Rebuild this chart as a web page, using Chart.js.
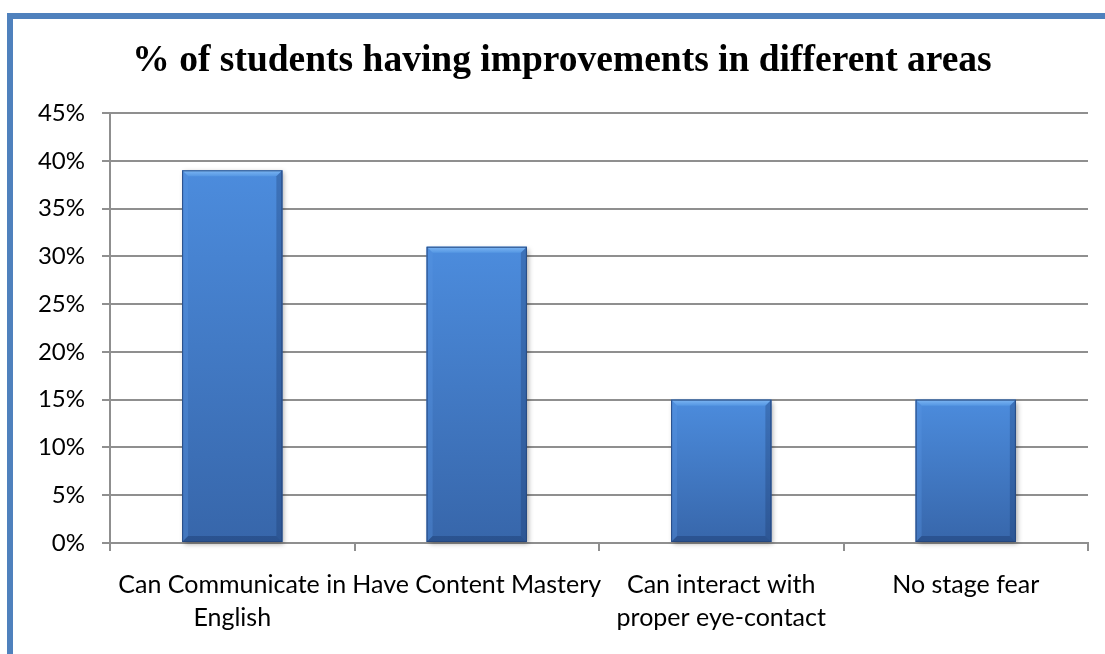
<!DOCTYPE html>
<html>
<head>
<meta charset="utf-8">
<script src="https://cdn.jsdelivr.net/npm/chart.js@4"></script>
<style>
  html, body { margin: 0; padding: 0; background: #ffffff; overflow: hidden; }
  #wrap { position: relative; width: 1105px; height: 654px; }
  #frame {
    position: absolute; left: 7px; top: 13px; width: 1200px; height: 800px;
    border-left: 6px solid #4F81BD; border-top: 6px solid #4F81BD;
    pointer-events: none;
  }
</style>
</head>
<body>
<div id="wrap">
  <canvas id="chart" width="1105" height="654"></canvas>
  <div id="frame"></div>
</div>
<script>
// Survey results: share of students improving in each area
const chartTitle = '% of students having improvements in different areas';
const categories = [
  ['Can Communicate in', 'English'],
  ['Have Content Mastery'],
  ['Can interact with', 'proper eye-contact'],
  ['No stage fear']
];
const percentImproved = [39, 31, 15, 15];
const yTickStep = 5;
const yMax = 45;

const gridColor = '#8f8f8f';

// Per-bar vertical gradient, lighter at the top
function barFill(ctx) {
  const chart = ctx.chart;
  const y = chart.scales.y;
  if (!chart.chartArea || !y) return '#4677C0';
  const top = y.getPixelForValue(ctx.raw);
  const bottom = y.getPixelForValue(0);
  const g = chart.ctx.createLinearGradient(0, top, 0, bottom);
  g.addColorStop(0, '#4C8CDD');
  g.addColorStop(1, '#3766AA');
  return g;
}

// Bevelled edges and a soft shadow around each bar
const bevelPlugin = {
  id: 'bevel',
  beforeDatasetsDraw(chart) {
    const c = chart.ctx;
    chart.getDatasetMeta(0).data.forEach(bar => {
      const l = bar.x - bar.width / 2, r = bar.x + bar.width / 2;
      c.save();
      c.shadowColor = 'rgba(0,0,0,0.35)';
      c.shadowBlur = 5;
      c.shadowOffsetX = 2;
      c.shadowOffsetY = 2;
      c.fillStyle = '#3766AA';
      c.fillRect(l, bar.y, r - l, bar.base - bar.y);
      c.restore();
    });
  },
  afterDatasetsDraw(chart) {
    const c = chart.ctx;
    const b = 6;
    chart.getDatasetMeta(0).data.forEach(bar => {
      const l = bar.x - bar.width / 2, r = bar.x + bar.width / 2;
      const t = bar.y, btm = bar.base;
      c.save();
      // top face
      const gt = c.createLinearGradient(0, t, 0, t + b);
      gt.addColorStop(0, '#7DB6F3');
      gt.addColorStop(1, '#5597E3');
      c.fillStyle = gt;
      c.beginPath();
      c.moveTo(l, t); c.lineTo(r, t); c.lineTo(r - b, t + b); c.lineTo(l + b, t + b);
      c.closePath(); c.fill();
      // left face
      c.fillStyle = 'rgba(90,150,225,0.35)';
      c.beginPath();
      c.moveTo(l, t); c.lineTo(l + b, t + b); c.lineTo(l + b, btm - b); c.lineTo(l, btm);
      c.closePath(); c.fill();
      // right face
      c.fillStyle = 'rgba(20,45,95,0.28)';
      c.beginPath();
      c.moveTo(r, t); c.lineTo(r - b, t + b); c.lineTo(r - b, btm - b); c.lineTo(r, btm);
      c.closePath(); c.fill();
      // bottom face
      c.fillStyle = 'rgba(20,45,95,0.35)';
      c.beginPath();
      c.moveTo(l, btm); c.lineTo(l + b, btm - b); c.lineTo(r - b, btm - b); c.lineTo(r, btm);
      c.closePath(); c.fill();
      // outline
      c.strokeStyle = 'rgba(35,70,125,0.9)';
      c.lineWidth = 1;
      c.strokeRect(l + 0.5, t + 0.5, r - l - 1, btm - t - 1);
      c.restore();
    });
  }
};

new Chart(document.getElementById('chart'), {
  type: 'bar',
  data: {
    labels: categories,
    datasets: [{
      data: percentImproved,
      backgroundColor: barFill,
      borderWidth: 0,
      categoryPercentage: 1,
      barPercentage: 0.41
    }]
  },
  options: {
    responsive: false,
    animation: false,
    events: [],
    layout: { padding: { top: 20, left: 36, right: 17, bottom: 3 } },
    plugins: {
      legend: { display: false },
      tooltip: { enabled: false },
      title: {
        display: true,
        text: chartTitle,
        color: '#000000',
        font: { family: 'Liberation Serif', size: 37.5, weight: 'bold', lineHeight: 1.2 },
        padding: { top: 19, bottom: 29 }
      }
    },
    scales: {
      x: {
        grid: {
          offset: true,
          drawOnChartArea: false,
          drawTicks: true,
          tickLength: 8,
          color: gridColor,
          lineWidth: 2
        },
        border: { display: true, color: gridColor, width: 2 },
        ticks: {
          color: '#000000',
          font: { family: 'Lato', size: 25, lineHeight: 1.32 },
          padding: 17,
          maxRotation: 0,
          autoSkip: false
        }
      },
      y: {
        min: 0,
        max: yMax,
        afterFit(scale) { scale.width = 74; },
        grid: {
          color: gridColor,
          lineWidth: 2,
          drawTicks: true,
          tickLength: 8
        },
        border: { display: true, color: gridColor, width: 2 },
        ticks: {
          stepSize: yTickStep,
          color: '#000000',
          font: { family: 'Lato', size: 24 },
          padding: 17,
          callback: v => v + '%'
        }
      }
    }
  },
  plugins: [bevelPlugin]
});
</script>
</body>
</html>
